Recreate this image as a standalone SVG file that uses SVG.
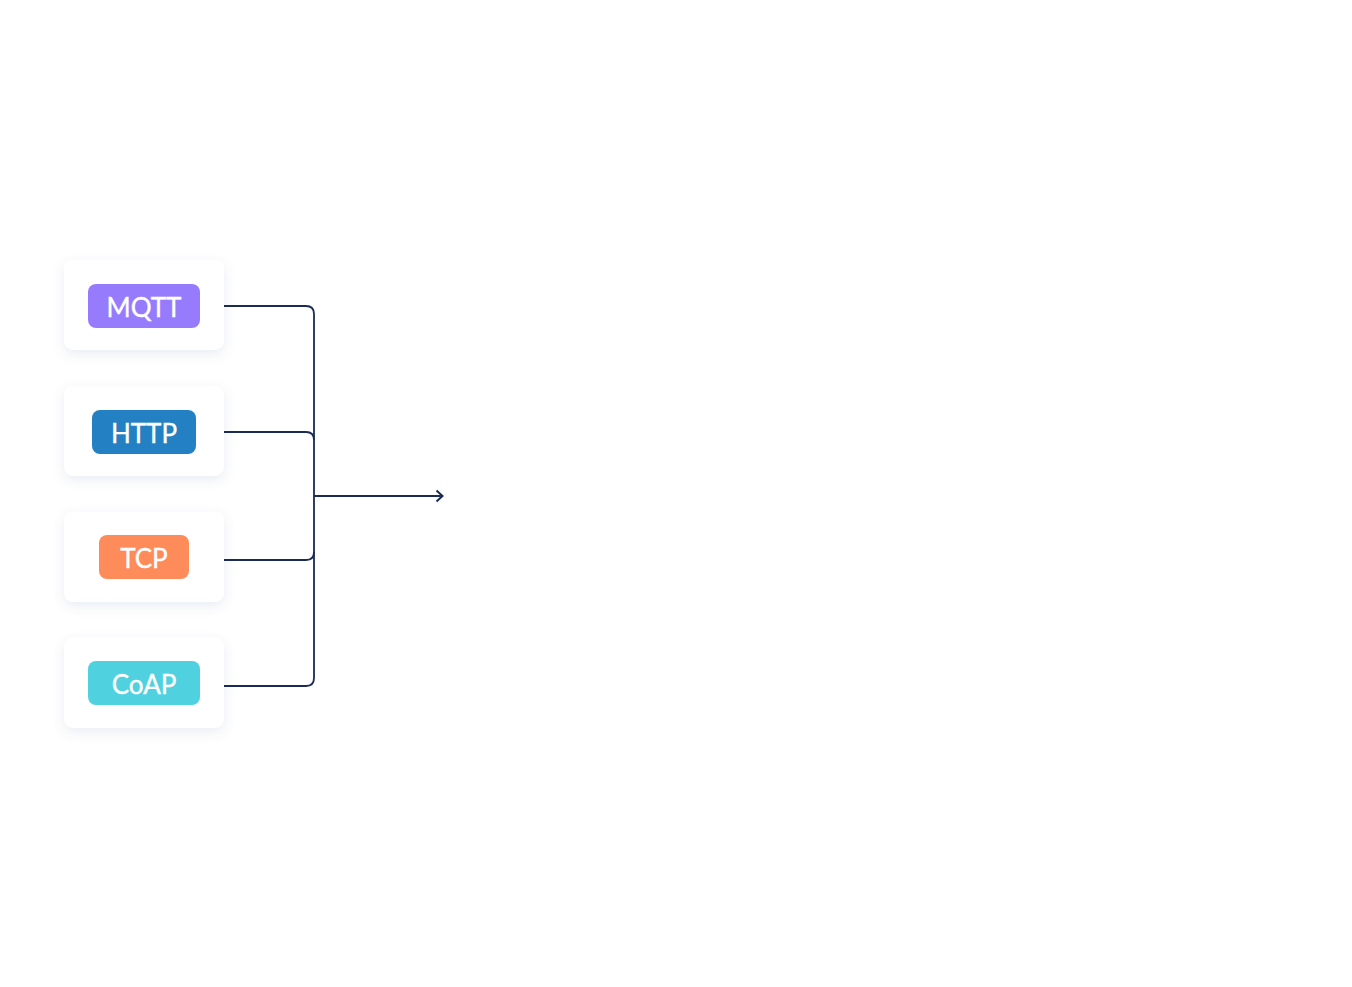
<svg xmlns="http://www.w3.org/2000/svg" width="1352" height="987" viewBox="0 0 1352 987">
<defs>
<filter id="sh" x="-30%" y="-30%" width="160%" height="170%">
<feDropShadow dx="0" dy="4" stdDeviation="6" flood-color="#5a6a9a" flood-opacity="0.13"/>
</filter>
<marker id="arr" viewBox="0 0 12 14" refX="10.5" refY="7" markerWidth="12" markerHeight="14" markerUnits="userSpaceOnUse" orient="auto">
<path d="M4,1.5 L10,7 L4,12.5" fill="none" stroke="#1b2b55" stroke-width="2"/>
</marker>
</defs>
<style>
.card{fill:#ffffff;filter:url(#sh)}
.lbl{font-family:Lato,"Open Sans",sans-serif;font-size:26px;fill:#ffffff;stroke:#ffffff;stroke-width:0.4;text-anchor:middle;dominant-baseline:central}
.con{fill:none;stroke:#1b2b55;stroke-width:1.8}
</style>
<rect width="1352" height="987" fill="#ffffff"/>
<g id="mqtt">
<rect class="card" x="64" y="260" width="160" height="90" rx="9"/>
<rect x="88" y="284" width="112" height="44" rx="8" fill="#967cfd"/>
<text class="lbl" x="144" y="307">MQTT</text>
</g>
<g id="http">
<rect class="card" x="64" y="386" width="160" height="90" rx="9"/>
<rect x="92" y="410" width="104" height="44" rx="8" fill="#2380c3"/>
<text class="lbl" x="144" y="433">HTTP</text>
</g>
<g id="tcp">
<rect class="card" x="64" y="512" width="160" height="90" rx="9"/>
<rect x="99" y="535" width="90" height="44" rx="8" fill="#fe8c5b"/>
<text class="lbl" x="144" y="558">TCP</text>
</g>
<g id="coap">
<rect class="card" x="64" y="638" width="160" height="90" rx="9"/>
<rect x="88" y="661" width="112" height="44" rx="8" fill="#4fd1e0"/>
<text class="lbl" x="144" y="684">CoAP</text>
</g>
<g id="connectors">
<path class="con" d="M224,306 H306 Q314,306 314,314 V678 Q314,686 306,686 H224"/>
<path class="con" d="M224,432 H306 Q314,432 314,440"/>
<path class="con" d="M224,560 H306 Q314,560 314,552"/>
<path class="con" d="M314,496 H443" marker-end="url(#arr)"/>
</g>
</svg>
